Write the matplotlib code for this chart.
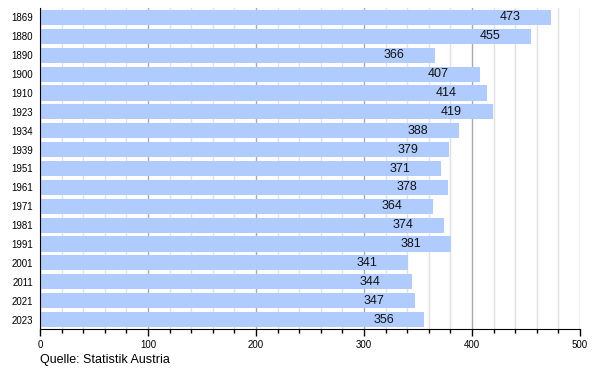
import matplotlib
matplotlib.use("Agg")
import matplotlib.pyplot as plt
from matplotlib.ticker import MultipleLocator

plt.rcParams['font.family'] = ['Liberation Sans', 'DejaVu Sans']

years = ["1869", "1880", "1890", "1900", "1910", "1923", "1934", "1939", "1951",
         "1961", "1971", "1981", "1991", "2001", "2011", "2021", "2023"]
values = [473, 455, 366, 407, 414, 419, 388, 379, 371, 378, 364, 374, 381, 341, 344, 347, 356]

fig = plt.figure(figsize=(6, 3.7), dpi=100)
ax = fig.add_axes([40/600, 1 - 329/370, 540/600, (329-8)/370])

pos = list(range(len(years)))
ax.barh(pos, values, height=0.8, color="#b0ccff", zorder=2)
for p, v in zip(pos, values):
    ax.text(v - 38, p, str(v), ha="center", va="center", fontsize=9, color="#111111", zorder=3)

ax.set_ylim(len(years) - 0.5, -0.5)
ax.set_yticks(pos)
ax.set_yticklabels(years, fontsize=7)
ax.tick_params(axis='y', length=0, pad=5)

ax.set_xlim(0, 500)
ax.xaxis.set_major_locator(MultipleLocator(100))
ax.xaxis.set_minor_locator(MultipleLocator(20))
ax.tick_params(axis='x', which='major', length=5, width=1, labelsize=7, pad=3)
ax.tick_params(axis='x', which='minor', length=3, width=1)
ax.grid(axis='x', which='major', color="#aaaaaa", linewidth=1, zorder=0)
ax.grid(axis='x', which='minor', color="#e0e0e0", linewidth=1, zorder=0)

for s in ["top", "right"]:
    ax.spines[s].set_visible(False)
ax.spines["left"].set_color("black")
ax.spines["bottom"].set_color("black")

fig.text(40/600, 1 - 360/370, "Quelle: Statistik Austria", fontsize=9, ha="left", va="center")

fig.savefig("out.png", dpi=100)
